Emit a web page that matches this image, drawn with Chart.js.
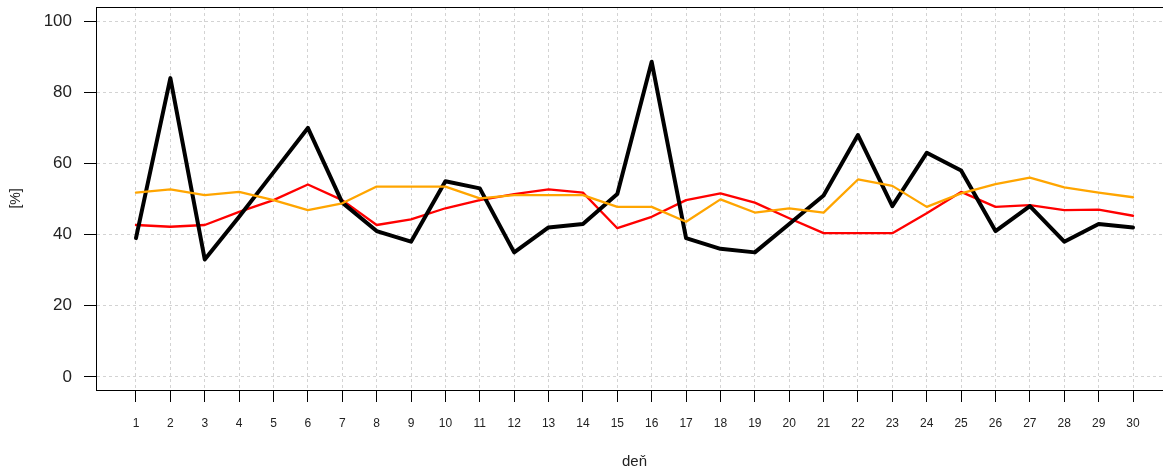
<!DOCTYPE html>
<html>
<head>
<meta charset="utf-8">
<script src="https://cdn.jsdelivr.net/npm/chart.js@4"></script>
<style>
html,body{margin:0;padding:0;background:#fff;overflow:hidden;}
#wrap{width:1180px;height:476px;}
</style>
</head>
<body>
<div id="wrap"><canvas id="c" width="1180" height="476"></canvas></div>
<script>
const days = [1,2,3,4,5,6,7,8,9,10,11,12,13,14,15,16,17,18,19,20,21,22,23,24,25,26,27,28,29,30];
const blackSeries = [39,84,33,45,57.5,70,49,41,38,55,53,35,42,43,51.4,88.6,39,36,35,43,51,68,48,63,58,41,48,38,43,42];
const redSeries = [42.7,42.2,42.7,46.4,49.7,54.1,49.7,42.7,44.3,47.4,49.7,51.4,52.7,51.8,41.8,45,49.7,51.6,49,44.6,40.4,40.4,40.4,46,52,47.8,48.3,46.9,47,45.3];
const orangeSeries = [51.8,52.7,51.1,52,49.7,46.9,48.8,53.5,53.5,53.5,50.2,51.1,51.1,51.1,47.8,47.8,43.6,49.9,46.2,47.4,46.2,55.5,53.7,47.8,51.6,54.2,56,53.3,51.8,50.5];
const yTicks = [0,20,40,60,80,100];
const xTitle = 'deň';
const yTitle = '[%]';

const pts = arr => days.map((d,i)=>({x:d,y:arr[i]}));

const framePlugin = {
  id:'frame',
  afterDraw(chart){
    const {ctx, chartArea:a} = chart;
    ctx.save();
    ctx.strokeStyle='#000';
    ctx.lineWidth=1;
    ctx.strokeRect(Math.round(a.left)+0.5, Math.round(a.top)+0.5, Math.round(a.right-a.left), Math.round(a.bottom-a.top));
    ctx.restore();
  }
};

const lineStyle = (color,w)=>({borderColor:color,backgroundColor:color,borderWidth:w,pointRadius:0,tension:0,fill:false,borderJoinStyle:'round',borderCapStyle:'round'});

new Chart(document.getElementById('c'),{
  type:'line',
  data:{datasets:[
    Object.assign({label:'orange',data:pts(orangeSeries)},lineStyle('#ffa500',2.3)),
    Object.assign({label:'black',data:pts(blackSeries)},lineStyle('#000000',4)),
    Object.assign({label:'red',data:pts(redSeries)},lineStyle('#ff0000',2.3))
  ]},
  plugins:[framePlugin],
  options:{
    responsive:false,
    animation:false,
    devicePixelRatio:1,
    layout:{padding:{top:7,right:7,left:0,bottom:0}},
    plugins:{legend:{display:false},tooltip:{enabled:false}},
    scales:{
      x:{
        type:'linear',min:-0.163,max:31.163,
        afterBuildTicks(s){ s.ticks = days.map(v=>({value:v})); },
        afterFit(s){ s.height=86; s.paddingLeft=0; s.paddingRight=0; },
        ticks:{autoSkip:false,maxRotation:0,padding:14,color:'#222',font:{family:'"Liberation Sans Narrow","Liberation Sans",Arial,sans-serif',size:12},callback:v=>String(v)},
        grid:{color:'#d3d3d3',lineWidth:1,tickColor:'#000',tickLength:12,tickWidth:1,tickBorderDash:[]},
        border:{display:true,color:'#000',width:1,dash:[3,3]},
        title:{display:true,text:xTitle,color:'#222',font:{family:'"Liberation Sans",Arial,sans-serif',size:15},padding:{top:0,bottom:5}}
      },
      y:{
        type:'linear',min:-3.7,max:104,
        afterBuildTicks(s){ s.ticks = yTicks.map(v=>({value:v})); },
        afterFit(s){ s.width=96; s.paddingTop=0; s.paddingBottom=0; },
        ticks:{padding:12,color:'#222',font:{family:'"Liberation Sans",Arial,sans-serif',size:17},callback:v=>String(v)},
        grid:{color:'#d3d3d3',lineWidth:1,tickColor:'#000',tickLength:12,tickWidth:1,tickBorderDash:[]},
        border:{display:true,color:'#000',width:1,dash:[3,3]},
        title:{display:true,text:yTitle,color:'#222',font:{family:'"Liberation Sans",Arial,sans-serif',size:14},padding:{top:8,bottom:0}}
      }
    }
  }
});
</script>
</body>
</html>
